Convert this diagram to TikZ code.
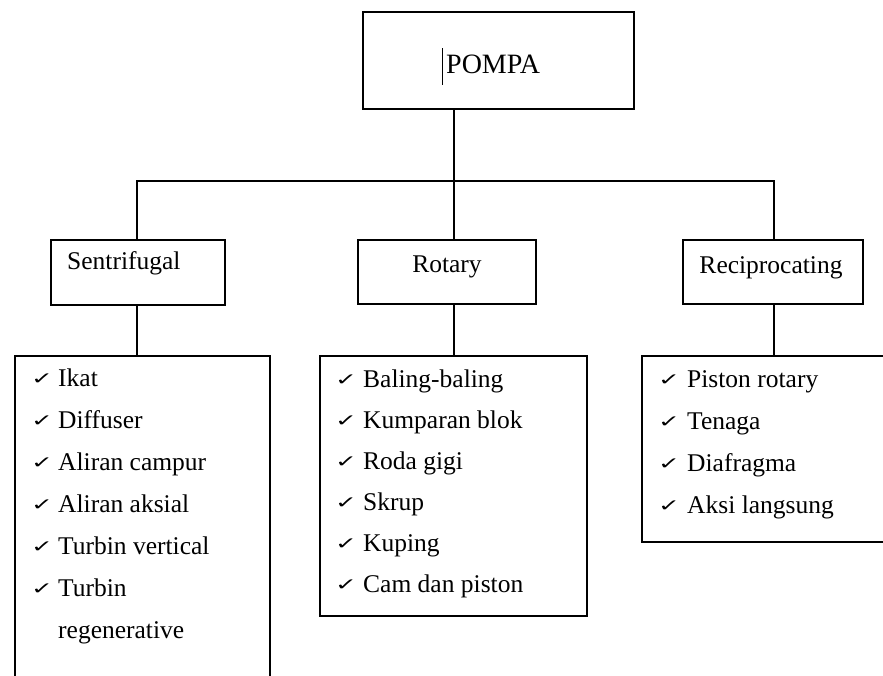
\documentclass[tikz,border=0pt]{standalone}
\usepackage{fontspec}
\setmainfont{Liberation Serif}
\newfontfamily\symfont{DejaVu Sans}
\newcommand{\chkmark}{\scalebox{1.05}[0.68]{✓}}
\begin{document}
\begin{tikzpicture}[x=1pt,y=-1pt,
  box/.style={draw,line width=1.6pt,inner sep=0pt,anchor=north west},
  conn/.style={line width=1.3pt},
  lbl/.style={anchor=base west,inner sep=0pt,font=\fontsize{25.5}{30}\selectfont},
  chk/.style={anchor=base west,inner sep=0pt,font=\symfont\fontsize{25}{28}\selectfont}]
\useasboundingbox (0,0) rectangle (883,675);
% top box
\node[box,minimum width=271pt,minimum height=97pt] (pompa) at (362,11) {};
\node[lbl,font=\fontsize{28}{32}\selectfont] (pompaT) at (446,73) {POMPA};
\coordinate (curTop) at (442,48);
\coordinate (curBot) at (442,85);
\draw[line width=1pt] (curTop) -- (curBot);
% second level boxes
\node[box,minimum width=174pt,minimum height=65pt] (sen) at (50,239) {};
\node[box,minimum width=178pt,minimum height=64pt] (rot) at (357,239) {};
\node[box,minimum width=180pt,minimum height=64pt] (rec) at (682,239) {};
\node[lbl] (senT) at (67,269) {Sentrifugal};
\node[lbl,anchor=base] (rotT) at (447,272) {Rotary};
\node[lbl,anchor=base] (recT) at (771,273) {Reciprocating};
% list boxes
\node[box,minimum width=255pt,minimum height=345pt] (senL) at (14,355) {};
\node[box,minimum width=267pt,minimum height=260pt] (rotL) at (319,355) {};
\node[box,minimum width=260pt,minimum height=186pt] (recL) at (641,355) {};
% connectors
\coordinate (hub) at (454,181);
\coordinate (busL) at (137,181);
\coordinate (busR) at (774,181);
\draw[conn] (pompa.south -| hub) -- (rot.north -| hub);
\draw[conn] (sen.north -| busL) -- (busL) -- (busR) -- (rec.north -| busR);
\draw[conn] (sen.south -| busL) -- (senL.north -| busL);
\draw[conn] (rot.south -| hub) -- (rotL.north -| hub);
\draw[conn] (rec.south -| busR) -- (recL.north -| busR);
% items
\foreach \t [count=\i] in {Ikat,Diffuser,Aliran campur,Aliran aksial,Turbin vertical,Turbin}{
  \node[chk] (sc\i) at (31,{384+(\i-1)*42}) {\chkmark};
  \node[lbl] (st\i) at (58,{386+(\i-1)*42}) {\t};
}
\node[lbl] (st7) at (58,638) {regenerative};
\foreach \t [count=\i] in {Baling-baling,Kumparan blok,Roda gigi,Skrup,Kuping,Cam dan piston}{
  \node[chk] (rc\i) at (335,{385+(\i-1)*41}) {\chkmark};
  \node[lbl] (rt\i) at (363,{387+(\i-1)*41}) {\t};
}
\foreach \t [count=\i] in {Piston rotary,Tenaga,Diafragma,Aksi langsung}{
  \node[chk] (pc\i) at (658,{385+(\i-1)*42}) {\chkmark};
  \node[lbl] (pt\i) at (687,{387+(\i-1)*42}) {\t};
}
\end{tikzpicture}
\end{document}
